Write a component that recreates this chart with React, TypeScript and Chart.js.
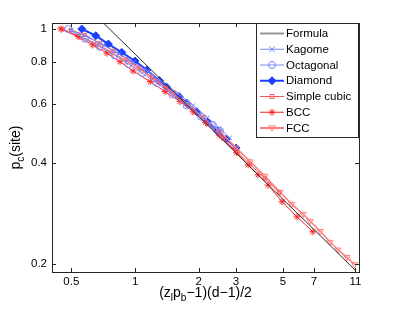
import React, { useEffect, useRef } from "react";
import { Chart, registerables } from "chart.js";
Chart.register(...registerables);

const xTicks = [0.5, 1, 2, 3, 5, 7, 11];
const yTicks = [0.2, 0.4, 0.6, 0.8, 1];

const formulaX = [0.7, 1, 2, 3, 5, 7, 11];
const formulaY = [1.05, 0.842, 0.549, 0.427, 0.311, 0.253, 0.191];

const kagomeX = [0.5, 0.6, 0.71, 0.84, 0.98, 1.15, 1.35, 1.6, 1.88, 2.2, 2.5, 2.8];
const kagomeY = [0.99, 0.945, 0.895, 0.845, 0.797, 0.748, 0.696, 0.642, 0.592, 0.545, 0.507, 0.474];

const octX = [0.483, 0.58, 0.68, 0.8, 0.93, 1.08, 1.27, 1.5, 1.75, 2.05, 2.33, 2.52];
const octY = [1.0, 0.935, 0.885, 0.835, 0.787, 0.74, 0.69, 0.638, 0.592, 0.548, 0.518, 0.497];

const diamondX = [0.56, 0.652, 0.748, 0.865, 1.0, 1.136, 1.302, 1.411, 1.614, 1.755, 1.956, 2.2, 2.45, 2.7, 3.0];
const diamondY = [1.0, 0.955, 0.902, 0.852, 0.803, 0.755, 0.702, 0.671, 0.629, 0.601, 0.567, 0.53, 0.497, 0.47, 0.442];

const scX = [0.498, 0.58, 0.683, 0.79, 0.914, 1.05, 1.2, 1.4, 1.65, 1.9, 2.2, 2.6, 3.0, 3.5, 4.1, 4.8];
const scY = [0.993, 0.96, 0.907, 0.862, 0.813, 0.767, 0.72, 0.667, 0.611, 0.565, 0.52, 0.472, 0.433, 0.395, 0.359, 0.326];

const bccX = [0.447, 0.538, 0.631, 0.737, 0.849, 0.979, 1.18, 1.386, 1.632, 1.879, 2.15, 2.5, 3.02, 3.42, 3.81, 4.25, 4.95, 5.82, 6.93];
const bccY = [1.0, 0.949, 0.896, 0.847, 0.799, 0.75, 0.697, 0.651, 0.608, 0.567, 0.527, 0.483, 0.428, 0.394, 0.368, 0.343, 0.306, 0.276, 0.249];

const fccX = [0.45, 0.55, 0.66, 0.78, 0.92, 1.08, 1.27, 1.5, 1.78, 2.1, 2.5, 3.0, 3.5, 4.1, 4.84, 5.5, 6.22, 6.71, 7.5, 8.34, 9.1, 10.03, 10.9];
const fccY = [1.0, 0.95, 0.9, 0.85, 0.8, 0.752, 0.7, 0.648, 0.595, 0.546, 0.497, 0.443, 0.403, 0.365, 0.327, 0.301, 0.281, 0.268, 0.25, 0.232, 0.22, 0.209, 0.199];

const FONT = "'Liberation Sans', Arial, Helvetica, sans-serif";
const LIGHT_BLUE = "rgb(115,135,255)";
const BLUE = "rgb(25,65,255)";
const SC_RED = "rgb(255,85,85)";
const BCC_RED = "rgb(255,35,35)";
const FCC_PINK = "rgb(255,125,125)";
const FORMULA = "rgb(45,45,45)";

const pts = (xs: number[], ys: number[]) => xs.map((x, i) => ({ x, y: ys[i] }));

type Marker = "none" | "cross" | "circle" | "diamond" | "square" | "star" | "tri";

const legendItems: { label: string; color: string; width: number; marker: Marker; fill?: boolean }[] = [
  { label: "Formula", color: "rgb(150,150,150)", width: 2, marker: "none" },
  { label: "Kagome", color: LIGHT_BLUE, width: 1, marker: "cross" },
  { label: "Octagonal", color: LIGHT_BLUE, width: 1, marker: "circle" },
  { label: "Diamond", color: BLUE, width: 2, marker: "diamond", fill: true },
  { label: "Simple cubic", color: SC_RED, width: 1, marker: "square" },
  { label: "BCC", color: BCC_RED, width: 1, marker: "star" },
  { label: "FCC", color: FCC_PINK, width: 2, marker: "tri" },
];

function drawMarker(ctx: CanvasRenderingContext2D, m: Marker, x: number, y: number, color: string, fill?: boolean) {
  ctx.save();
  ctx.strokeStyle = color;
  ctx.fillStyle = color;
  ctx.lineWidth = 1;
  ctx.beginPath();
  if (m === "cross") {
    const r = 3;
    ctx.moveTo(x - r, y - r); ctx.lineTo(x + r, y + r);
    ctx.moveTo(x - r, y + r); ctx.lineTo(x + r, y - r);
    ctx.stroke();
  } else if (m === "circle") {
    ctx.arc(x, y, 3.5, 0, Math.PI * 2);
    ctx.stroke();
  } else if (m === "diamond") {
    const r = 4;
    ctx.moveTo(x, y - r); ctx.lineTo(x + r, y); ctx.lineTo(x, y + r); ctx.lineTo(x - r, y); ctx.closePath();
    if (fill) ctx.fill();
    ctx.stroke();
  } else if (m === "square") {
    ctx.rect(x - 2, y - 2, 4, 4);
    ctx.stroke();
  } else if (m === "star") {
    const r = 3.5;
    ctx.moveTo(x - r, y); ctx.lineTo(x + r, y);
    ctx.moveTo(x, y - r); ctx.lineTo(x, y + r);
    const d = r * 0.7;
    ctx.moveTo(x - d, y - d); ctx.lineTo(x + d, y + d);
    ctx.moveTo(x - d, y + d); ctx.lineTo(x + d, y - d);
    ctx.stroke();
  } else if (m === "tri") {
    const r = 3.5;
    ctx.moveTo(x - r, y - r * 0.6); ctx.lineTo(x + r, y - r * 0.6); ctx.lineTo(x, y + r * 0.9); ctx.closePath();
    ctx.stroke();
  }
  ctx.restore();
}

function drawRich(ctx: CanvasRenderingContext2D, parts: { t: string; sub?: boolean }[], cx: number, baseY: number, size: number, subSize: number) {
  const widths = parts.map((p) => {
    ctx.font = `${p.sub ? subSize : size}px ${FONT}`;
    return ctx.measureText(p.t).width;
  });
  const total = widths.reduce((a, b) => a + b, 0);
  let x = cx - total / 2;
  ctx.textAlign = "left";
  ctx.textBaseline = "alphabetic";
  parts.forEach((p, i) => {
    ctx.font = `${p.sub ? subSize : size}px ${FONT}`;
    ctx.fillText(p.t, x, baseY + (p.sub ? 4 : 0));
    x += widths[i];
  });
}

const decorPlugin = {
  id: "matlabDecor",
  afterDraw(chart: any) {
    const ctx: CanvasRenderingContext2D = chart.ctx;
    const { left, right, top, bottom } = chart.chartArea;
    const xs = chart.scales.x;
    const ys = chart.scales.y;
    ctx.save();
    ctx.strokeStyle = "rgb(38,38,38)";
    ctx.lineWidth = 1;
    // ticks inward
    ctx.beginPath();
    xTicks.forEach((v) => {
      const px = Math.round(xs.getPixelForValue(v)) + 0.5;
      ctx.moveTo(px, bottom); ctx.lineTo(px, bottom - 4);
      ctx.moveTo(px, top); ctx.lineTo(px, top + 4);
    });
    yTicks.forEach((v) => {
      const py = Math.round(ys.getPixelForValue(v)) + 0.5;
      ctx.moveTo(left, py); ctx.lineTo(left + 4, py);
      ctx.moveTo(right, py); ctx.lineTo(right - 4, py);
    });
    ctx.stroke();
    ctx.strokeRect(Math.round(left) + 0.5, Math.round(top) + 0.5, Math.round(right - left), Math.round(bottom - top));

    // legend
    const lx = 256.5, ly = 23.5, lw = 102, lh = 114;
    ctx.fillStyle = "#fff";
    ctx.fillRect(lx, ly, lw, lh);
    ctx.strokeStyle = "rgb(38,38,38)";
    ctx.strokeRect(lx, ly, lw, lh);
    legendItems.forEach((it, i) => {
      const cy = 33.5 + i * 15.75;
      ctx.strokeStyle = it.color;
      ctx.lineWidth = it.width;
      ctx.beginPath();
      ctx.moveTo(260, cy); ctx.lineTo(284, cy);
      ctx.stroke();
      if (it.marker !== "none") drawMarker(ctx, it.marker, 272, cy, it.color, it.fill);
      ctx.fillStyle = "#000";
      ctx.font = `11.5px ${FONT}`;
      ctx.textAlign = "left";
      ctx.textBaseline = "middle";
      ctx.fillText(it.label, 286, cy + 0.5);
    });

    // x title
    ctx.fillStyle = "#000";
    drawRich(ctx, [
      { t: "(z" }, { t: "l", sub: true }, { t: "p" }, { t: "b", sub: true }, { t: "\u22121)(d\u22121)/2" },
    ], (left + right) / 2, 297, 14, 10);

    // y title
    ctx.save();
    ctx.translate(20, (top + bottom) / 2);
    ctx.rotate(-Math.PI / 2);
    drawRich(ctx, [{ t: "p" }, { t: "c", sub: true }, { t: "(site)" }], 0, 0, 14, 10);
    ctx.restore();
    ctx.restore();
  },
};

export default function App() {
  const ref = useRef<HTMLCanvasElement | null>(null);
  useEffect(() => {
    document.body.style.margin = "0";
    const canvas = ref.current!;
    const tickFont = { family: FONT, size: 11.5 };
    const ds = (label: string, xs: number[], ys: number[], extra: any) => ({
      label,
      data: pts(xs, ys),
      showLine: true,
      fill: false,
      tension: 0,
      ...extra,
    });
    const chart = new Chart(canvas, {
      type: "line",
      data: {
        datasets: [
          ds("Formula", formulaX, formulaY, { borderColor: FORMULA, borderWidth: 1, pointRadius: 0 }),
          ds("Kagome", kagomeX, kagomeY, { borderColor: LIGHT_BLUE, borderWidth: 1, pointStyle: "crossRot", pointRadius: 3, pointBorderColor: LIGHT_BLUE, pointBorderWidth: 1 }),
          ds("Octagonal", octX, octY, { borderColor: LIGHT_BLUE, borderWidth: 1, pointStyle: "circle", pointRadius: 3.5, pointBorderColor: LIGHT_BLUE, pointBackgroundColor: "rgba(0,0,0,0)", pointBorderWidth: 1 }),
          ds("Simple cubic", scX, scY, { borderColor: SC_RED, borderWidth: 1, pointStyle: "rect", pointRadius: 2.2, pointBorderColor: SC_RED, pointBackgroundColor: "rgba(0,0,0,0)", pointBorderWidth: 1 }),
          ds("BCC", bccX, bccY, { borderColor: BCC_RED, borderWidth: 1, pointStyle: "star", pointRadius: 3.5, pointBorderColor: BCC_RED, pointBorderWidth: 1 }),
          ds("FCC", fccX, fccY, { borderColor: FCC_PINK, borderWidth: 1.5, pointStyle: "triangle", rotation: 180, pointRadius: 3.5, pointBorderColor: FCC_PINK, pointBackgroundColor: "rgba(0,0,0,0)", pointBorderWidth: 1 }),
          ds("Diamond", diamondX, diamondY, { borderColor: BLUE, borderWidth: 2, pointStyle: "rectRot", pointRadius: 4, pointBorderColor: BLUE, pointBackgroundColor: BLUE, pointBorderWidth: 1 }),
        ],
      },
      options: {
        animation: false,
        responsive: false,
        devicePixelRatio: 1,
        layout: { padding: { top: 23, right: 38, left: 0, bottom: 0 } },
        plugins: { legend: { display: false }, tooltip: { enabled: false } },
        scales: {
          x: {
            type: "logarithmic",
            min: 0.405,
            max: 11.43,
            afterBuildTicks: (s: any) => { s.ticks = xTicks.map((v) => ({ value: v })); },
            afterFit: (s: any) => { s.height = 39; },
            ticks: { font: tickFont, color: "#000", padding: 3, autoSkip: false, maxRotation: 0, callback: (v: any) => String(v) },
            grid: { display: false, drawTicks: false },
            border: { display: false },
          },
          y: {
            type: "logarithmic",
            min: 0.189,
            max: 1.042,
            afterBuildTicks: (s: any) => { s.ticks = yTicks.map((v) => ({ value: v })); },
            afterFit: (s: any) => { s.width = 52; },
            ticks: { font: tickFont, color: "#000", padding: 5, autoSkip: false, callback: (v: any) => String(v) },
            grid: { display: false, drawTicks: false },
            border: { display: false },
          },
        },
      } as any,
      plugins: [decorPlugin],
    });
    return () => chart.destroy();
  }, []);
  return (
    <div style={{ width: 397, height: 311, background: "#fff" }}>
      <canvas ref={ref} width={397} height={311} style={{ display: "block" }} />
    </div>
  );
}
